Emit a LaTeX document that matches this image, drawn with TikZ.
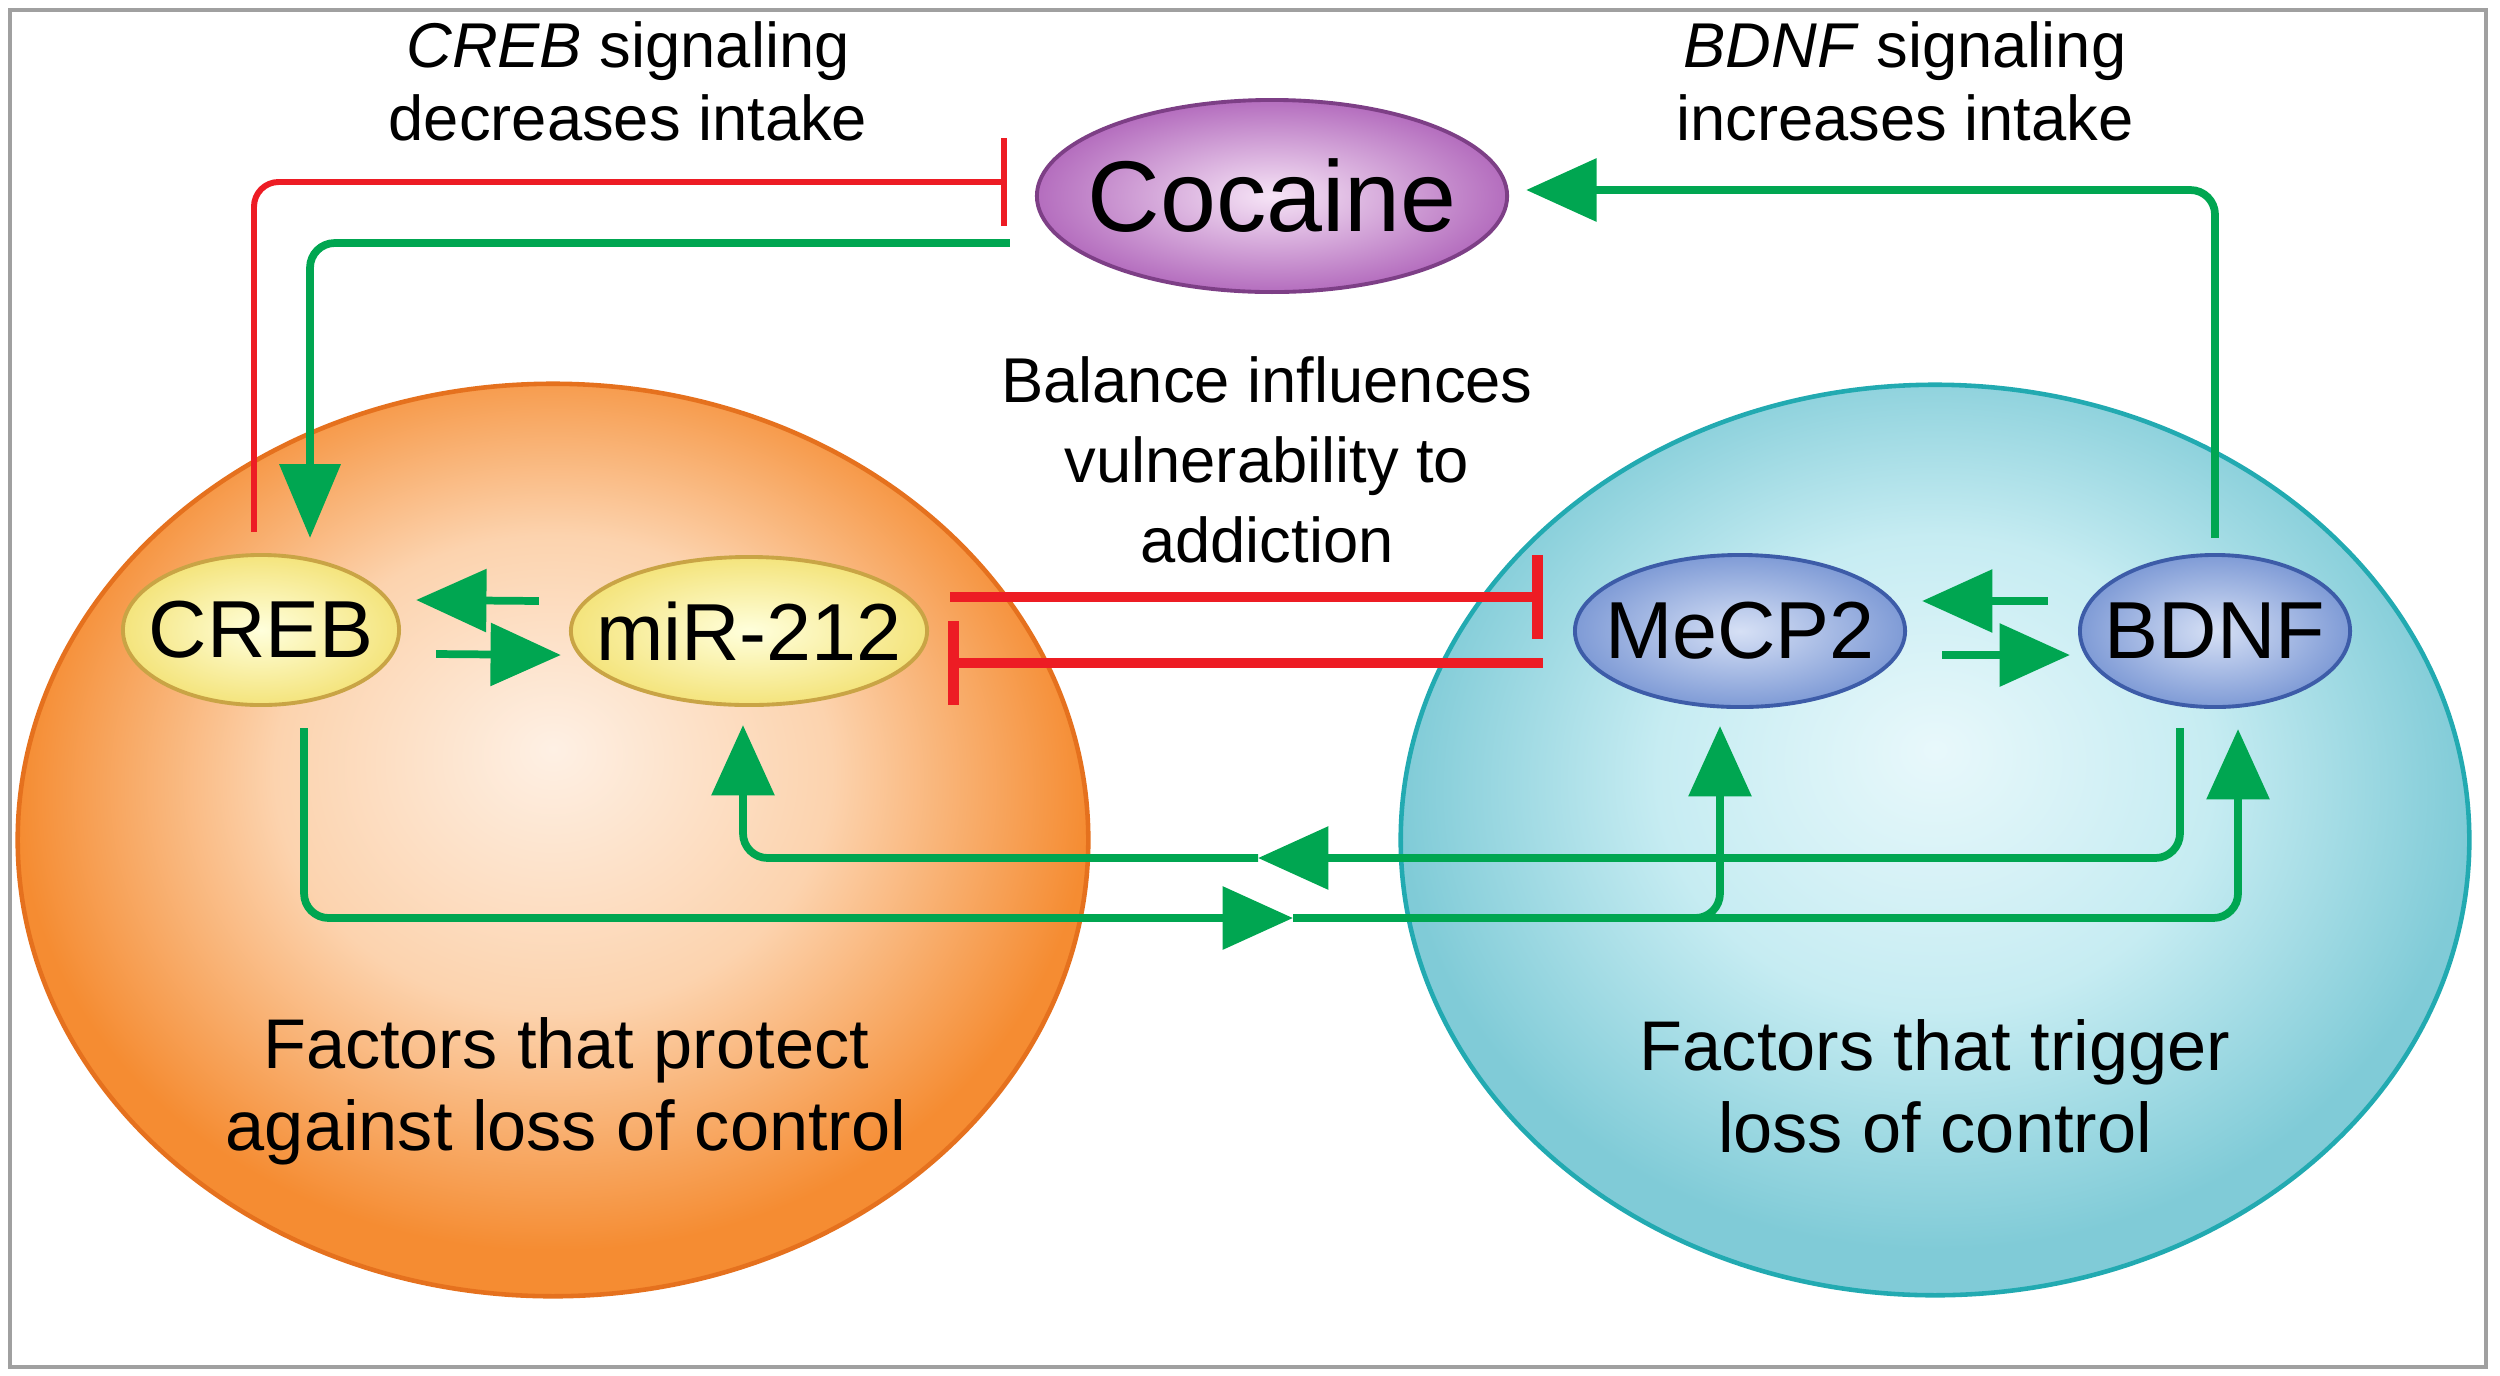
\documentclass[tikz,border=0pt]{standalone}
\usepackage{fontspec}
\setmainfont{Liberation Sans}
\usetikzlibrary{shapes.geometric,arrows.meta}
\definecolor{actgreen}{HTML}{00A651}
\definecolor{inhred}{HTML}{ED1C24}
\definecolor{framegray}{HTML}{A0A0A0}
\definecolor{protectin}{HTML}{FEF0E4}
\definecolor{protectmid}{HTML}{FCD3AE}
\definecolor{protectout}{HTML}{F58C32}
\definecolor{protectedge}{HTML}{E5711E}
\definecolor{triggerin}{HTML}{E8F8FB}
\definecolor{triggermid}{HTML}{C6ECF2}
\definecolor{triggerout}{HTML}{80CBD7}
\definecolor{triggeredge}{HTML}{22AAB1}
\definecolor{yellowin}{HTML}{FFFFDC}
\definecolor{yellowout}{HTML}{F4E47C}
\definecolor{yellowedge}{HTML}{C9A445}
\definecolor{bluein}{HTML}{D6E0F5}
\definecolor{blueout}{HTML}{7F9BD6}
\definecolor{blueedge}{HTML}{3D5CA8}
\definecolor{cocainein}{HTML}{F6E4F6}
\definecolor{cocaineout}{HTML}{B46DBE}
\definecolor{cocaineedge}{HTML}{7D3F86}
\pgfdeclareradialshading{protectshade}{\pgfpoint{0bp}{5bp}}{color(0bp)=(protectin); color(13bp)=(protectmid); color(25bp)=(protectout); color(50bp)=(protectout)}
\pgfdeclareradialshading{triggershade}{\pgfpoint{0bp}{5bp}}{color(0bp)=(triggerin); color(13bp)=(triggermid); color(25bp)=(triggerout); color(50bp)=(triggerout)}

\begin{document}
\begin{tikzpicture}[x=0.01cm,y=-0.01cm,
  every node/.style={inner sep=0pt,outer sep=0pt},
  blob/.style={ellipse,line width=1.3pt},
  gene/.style={ellipse,inner sep=-0.8cm,line width=1.1pt,font=\fontsize{23}{27}\selectfont},
  yellownode/.style={draw=yellowedge,inner color=yellowin,outer color=yellowout},
  bluenode/.style={draw=blueedge,inner color=bluein,outer color=blueout},
  note/.style={align=center,font=\fontsize{18}{20.8}\selectfont},
  act/.style={draw=actgreen,line width=2.2pt,rounded corners=7pt,-{Triangle[length=20pt,width=17.5pt]}},
  inhib/.style={draw=inhred,line width=1.7pt,rounded corners=7pt,-{Bar[width=25pt]}},
  block/.style={draw=inhred,line width=3pt,-{Bar[width=24pt]}}]
  \useasboundingbox (0,0) rectangle (2500,1375);
  \draw[framegray,line width=1.3pt] (10,10) rectangle (2486,1367);

  \node[blob,draw=protectedge,shading=protectshade,minimum width=10.70cm,minimum height=9.12cm] (protect) at (553,840) {};
  \node[blob,draw=triggeredge,shading=triggershade,minimum width=10.68cm,minimum height=9.10cm] (trigger) at (1935,840) {};

  \node[note] (creblabel) at (628,81) {\textit{CREB} signaling\\decreases intake};
  \node[note] (bdnflabel) at (1905,81) {\textit{BDNF} signaling\\increases intake};
  \node[note,font=\fontsize{18}{22.8}\selectfont] (balance) at (1267,460) {Balance influences\\vulnerability to\\addiction};
  \node[note,font=\fontsize{20}{23.3}\selectfont] (protecttext) at (566,1091) {Factors that protect\\against loss of control};
  \node[note,font=\fontsize{20}{23.3}\selectfont] (triggertext) at (1935,1086) {Factors that trigger\\loss of control};

  \node[gene,draw=cocaineedge,inner color=cocainein,outer color=cocaineout,minimum width=4.70cm,minimum height=1.92cm,font=\fontsize{28.6}{32}\selectfont] (cocaine) at (1272,196) {Cocaine};
  \node[gene,yellownode,minimum width=2.76cm,minimum height=1.50cm] (creb) at (261,630) {CREB};
  \node[gene,yellownode,minimum width=3.56cm,minimum height=1.48cm] (mir) at (749,631) {miR-212};
  \node[gene,bluenode,minimum width=3.30cm,minimum height=1.52cm] (mecp) at (1740,631) {MeCP2};
  \node[gene,bluenode,minimum width=2.70cm,minimum height=1.52cm] (bdnf) at (2215,631) {BDNF};

  \draw[inhib] ([xshift=-0.07cm,yshift=0.23cm]creb.north) |- ([xshift=-0.30cm,yshift=0.14cm]cocaine.west);
  \draw[act,-{Triangle[length=21pt,width=17pt]}] ([xshift=-0.27cm,yshift=-0.47cm]cocaine.west) -| ([xshift=0.49cm,yshift=0.17cm]creb.north);
  \draw[act] ([yshift=0.17cm]bdnf.north) |- ([xshift=0.19cm,yshift=0.06cm]cocaine.east);

  \foreach \a/\b in {creb/mir,mecp/bdnf}{
    \draw[act] ([xshift=-0.32cm,yshift=0.30cm]\b.west) -- ([xshift=0.17cm,yshift=0.30cm]\a.east);
    \draw[act] ([xshift=0.37cm,yshift=-0.24cm]\a.east) -- ([xshift=-0.10cm,yshift=-0.24cm]\b.west);
  }

  \draw[block] ([xshift=0.23cm,yshift=0.34cm]mir.east) -- ([xshift=-0.32cm,yshift=0.34cm]mecp.west);
  \draw[block] ([xshift=-0.32cm,yshift=-0.32cm]mecp.west) -- ([xshift=0.21cm,yshift=-0.32cm]mir.east);

  \coordinate (toright) at (1293,918);
  \coordinate (toleft) at (1258,858);
  \draw[act] ([xshift=0.43cm,yshift=-0.23cm]creb.south) |- (toright);
  \draw[act] (toright) -| ([xshift=0.23cm,yshift=-0.22cm]bdnf.south);
  \draw[act] (toright) -| ([xshift=-0.20cm,yshift=-0.19cm]mecp.south);
  \draw[act] ([xshift=-0.35cm,yshift=-0.21cm]bdnf.south) |- (toleft);
  \draw[act] (toleft) -| ([xshift=-0.06cm,yshift=-0.20cm]mir.south);
\end{tikzpicture}
\end{document}
